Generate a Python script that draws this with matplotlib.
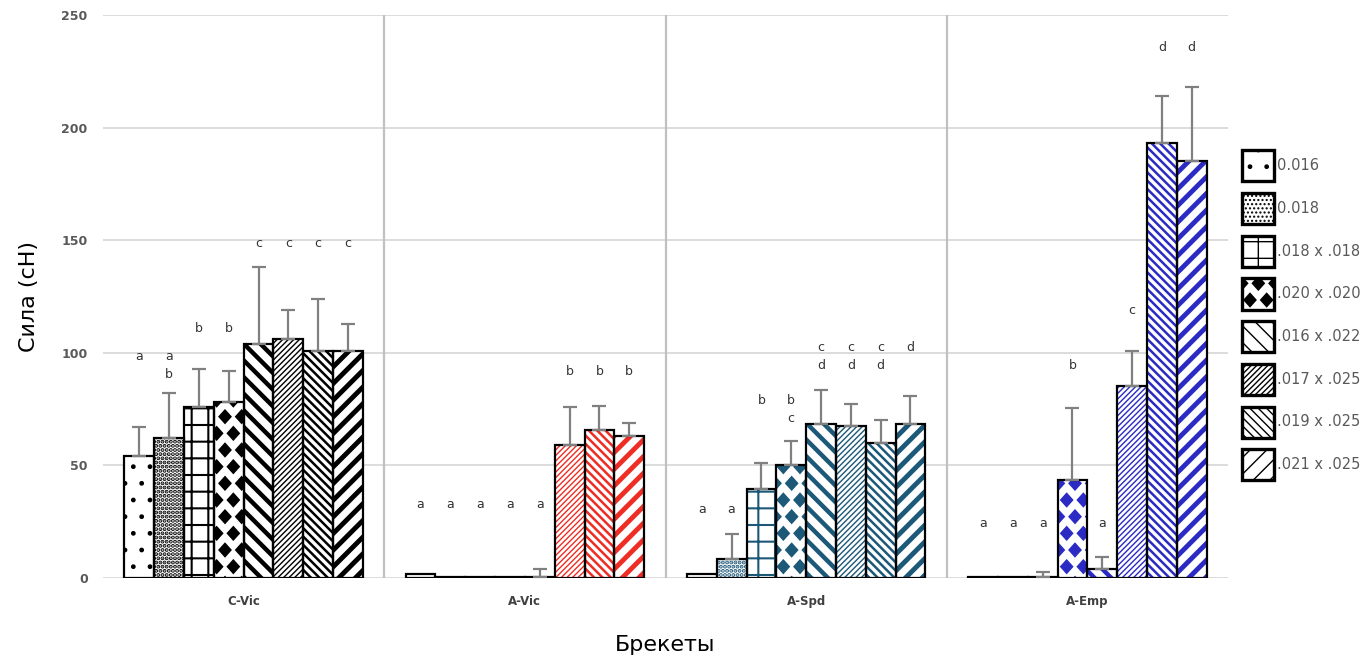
"""Сила по брекетам и сечениям дуг — сгруппированные столбцы со штриховкой."""
import numpy as np
import matplotlib
matplotlib.use("Agg")
import matplotlib.pyplot as plt
import matplotlib.hatch as mhatch
from matplotlib.path import Path
from matplotlib.patches import Patch

# data
groups = ["C-Vic", "A-Vic", "A-Spd", "A-Emp"]
wires = ["0.016", "0.018", ".018 x .018", ".020 x .020",
         ".016 x .022", ".017 x .025", ".019 x .025", ".021 x .025"]

force_cvic = [54, 62, 76, 78, 104, 106, 101, 101]
force_avic = [1.8, 0.5, 0.5, 0.5, 0.5, 59, 65.5, 63]
force_aspd = [1.8, 8.4, 39.7, 50, 68.6, 67.4, 60.1, 68.6]
force_aemp = [0.5, 0.5, 0.5, 43.5, 4.2, 85.3, 193, 185]

err_cvic = [13, 20, 17, 14, 34, 13, 23, 12]
err_avic = [0, 0, 0, 0, 3.5, 17, 11, 6]
err_aspd = [0, 11, 11.5, 11, 15, 10, 10, 12]
err_aemp = [0, 0, 2.2, 32, 5, 15.5, 21, 33]

letters_cvic = ["a", "a\nb", "b", "b", "c", "c", "c", "c"]
letters_avic = ["a", "a", "a", "a", "a", "b", "b", "b"]
letters_aspd = ["a", "a", "b", "b\nc", "c\nd", "c\nd", "c\nd", "d"]
letters_aemp = ["a", "a", "a", "b", "a", "c", "d", "d"]

letter_y_cvic = [98.2, 94.4, 111, 111, 148.4, 148.4, 148.4, 148.4]
letter_y_avic = [32.5, 32.5, 32.5, 32.5, 32.5, 91.5, 91.5, 91.5]
letter_y_aspd = [30.3, 30.3, 79, 74.7, 98.5, 98.5, 98.5, 102.5]
letter_y_aemp = [24.2, 24.2, 24.2, 94.2, 24.2, 119, 235.5, 235.5]

forces = np.array([force_cvic, force_avic, force_aspd, force_aemp])
errs = np.array([err_cvic, err_avic, err_aspd, err_aemp])
letters = [letters_cvic, letters_avic, letters_aspd, letters_aemp]
letter_y = [letter_y_cvic, letter_y_avic, letter_y_aspd, letter_y_aemp]

group_colors = ["black", "#ee2e24", "#1c5878", "#2b2bc4"]
# (hatch, hatch linewidth) per wire
hatches = [(".", 1.0), ("....", 2.0), ("+", 1.5), ("*", 1.0),
           ("\\\\", 3.2), ("//////", 1.0), ("\\\\\\\\", 1.8), ("//", 3.5)]


# '*' -> diamonds instead of stars
class Diamonds(mhatch.Shapes):
    size = 0.4
    filled = True

    def __init__(self, hatch, density):
        self.num_rows = hatch.count("*") * density
        self.shape_vertices = np.array([[0, 1], [0.9, 0], [0, -1], [-0.9, 0], [0, 1]], float)
        self.shape_codes = np.array([Path.MOVETO, Path.LINETO, Path.LINETO,
                                     Path.LINETO, Path.CLOSEPOLY], dtype=Path.code_type)
        super().__init__(hatch, density)


mhatch._hatch_types[mhatch._hatch_types.index(mhatch.Stars)] = Diamonds

fig = plt.figure(figsize=(13.66, 6.59), dpi=100)
ax = fig.add_axes([103 / 1366, 1 - 578 / 659, 1125 / 1366, 563 / 659])

w = 0.106
gx = np.arange(len(groups))
for i, (h, hlw) in enumerate(hatches):
    x = gx + (i - 3.5) * w
    vals = forces[:, i]
    with plt.rc_context({"hatch.linewidth": hlw}):
        bars = ax.bar(x, vals, w, facecolor="white", edgecolor=group_colors,
                      linewidth=0, hatch=h, zorder=2)
    for b in bars:
        if hasattr(b, "set_hatch_linewidth"):
            b.set_hatch_linewidth(hlw)
    ax.bar(x, vals, w, fill=False, edgecolor="black", linewidth=1.6, zorder=3)
    e = errs[:, i]
    m = e > 0
    ax.errorbar(x[m], vals[m], yerr=[np.zeros(m.sum()), e[m]], fmt="none",
                ecolor="#808080", elinewidth=1.6, capsize=5, capthick=1.6, zorder=4)
    for g in range(len(groups)):
        ax.text(x[g], letter_y[g][i], letters[g][i], ha="center", va="center",
                fontsize=9, color="#333333", linespacing=1.5)

# axes styling
ax.set_xlim(-0.5, 3.5)
ax.set_ylim(0, 250)
ax.set_yticks(range(0, 251, 50))
ax.set_xticks(gx)
ax.set_xticklabels(groups, fontsize=8.5, fontweight="bold", color="#404040")
for s in ax.spines.values():
    s.set_visible(False)
ax.tick_params(axis="both", length=0)
ax.tick_params(axis="y", pad=11, labelsize=9, labelcolor="#595959")
ax.tick_params(axis="x", pad=12)
for t in ax.get_yticklabels():
    t.set_fontweight("bold")
ax.grid(axis="y", color="#d9d9d9", linewidth=1.3, zorder=0)
ax.set_axisbelow(True)
for xv in gx[:-1] + 0.5:
    ax.axvline(xv, color="#c0c0c0", linewidth=1.6, zorder=1)

ax.set_ylabel("Сила (сН)", fontsize=16, labelpad=16)
ax.set_xlabel("Брекеты", fontsize=16, labelpad=20)

# legend with black patterns
handles = []
for h, hlw in hatches:
    with plt.rc_context({"hatch.linewidth": hlw}):
        p = Patch(facecolor="white", edgecolor="black", linewidth=2.4, hatch=h)
    if hasattr(p, "set_hatch_linewidth"):
        p.set_hatch_linewidth(hlw)
    handles.append(p)
fig.legend(handles, wires, loc="upper left", bbox_to_anchor=(1235 / 1366, 1 - 143 / 659),
           frameon=False, fontsize=10.5, handlelength=2.2, handleheight=2.9,
           labelspacing=0.8, handletextpad=0.2, borderpad=0, labelcolor="#595959")

plt.savefig("out.png", dpi=100)
plt.close()
